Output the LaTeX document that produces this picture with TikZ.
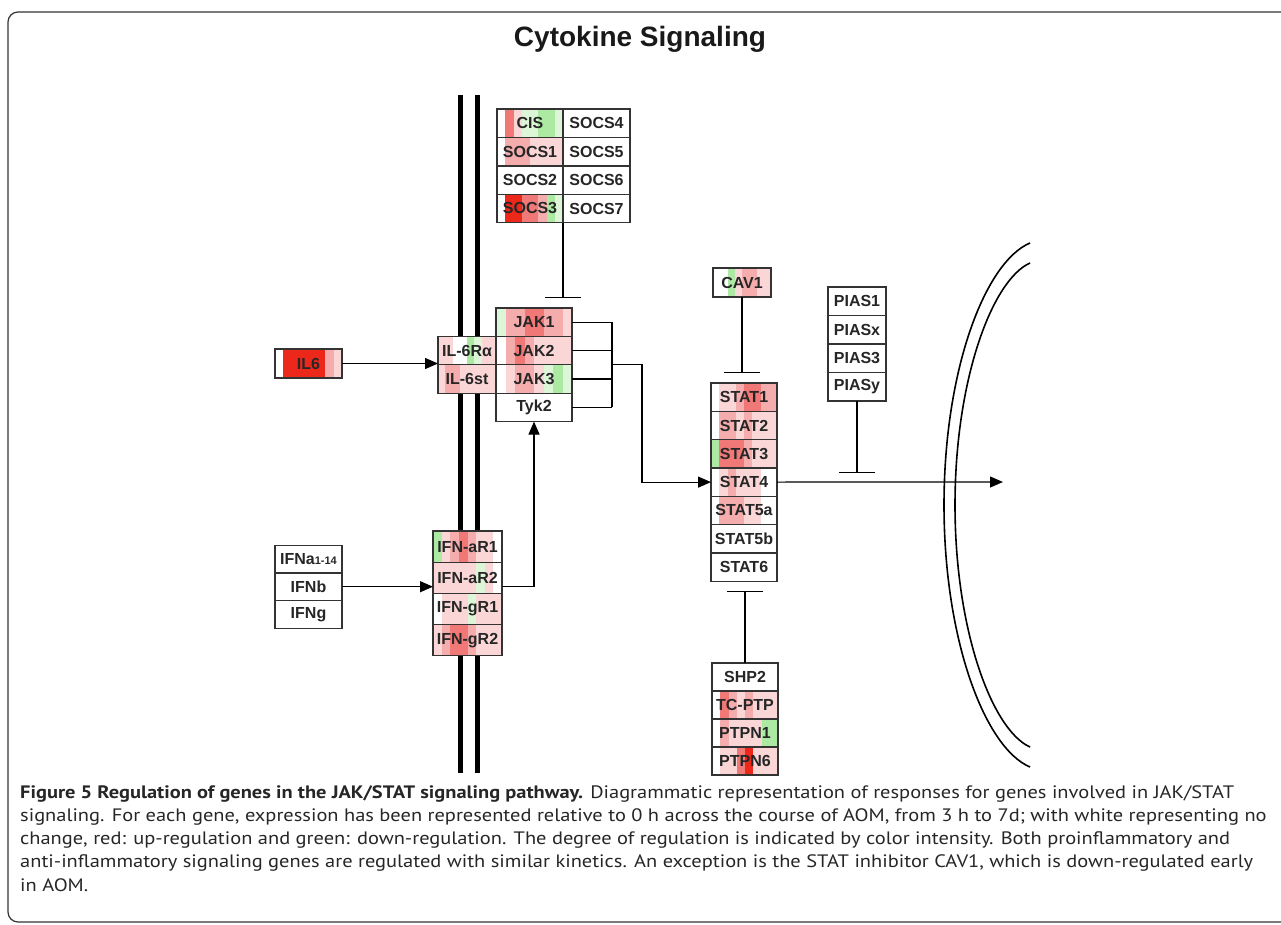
\documentclass[tikz,border=0pt]{standalone}
\usepackage{fontspec}
\setmainfont{PT Sans}[FakeStretch=1.135]
\newfontfamily\genefont{Liberation Sans}
\usetikzlibrary{positioning,calc,arrows.meta}

% heat-map colours (time course stripes)
\definecolor{r1}{RGB}{250,214,214}
\definecolor{r2}{RGB}{245,172,172}
\definecolor{r3}{RGB}{240,120,118}
\definecolor{r4}{RGB}{236,40,26}
\definecolor{g1}{RGB}{222,246,216}
\definecolor{g2}{RGB}{172,234,164}
\colorlet{w}{white}

\tikzset{
  heat/.style={path picture={
      \coordinate (hsw) at (path picture bounding box.south west);
      \coordinate (hne) at (path picture bounding box.north east);
      \coordinate (hse) at (hsw -| hne);
      \coordinate (hnw) at (hne -| hsw);
      \foreach \c [count=\i] in {#1}
        \fill[\c] ($(hsw)!{(\i-1)/8}!(hse)$) rectangle ($(hnw)!{\i/8}!(hne)$);
  }}
}

\begin{document}
\begin{tikzpicture}[x=1pt, y=-1pt,
    gene/.style={draw=black!80, line width=1.3pt, fill=white, inner sep=0pt, outer sep=0pt,
      minimum height=28.4pt, text=black!85, font=\genefont\bfseries\fontsize{16}{16}\selectfont},
    act/.style={-{Triangle[length=13pt,width=11pt]}, line width=1.2pt},
    inh/.style={-{Bar[width=36pt]}, line width=1.2pt},
    link/.style={line width=1.2pt},
    memb/.style={line width=5pt},
    envelope/.style={line width=1.6pt}
]
    \useasboundingbox (0,0) rectangle (1281,925);

    % Frame and title
    \draw[line width=1.2pt, black!80, rounded corners=10pt] (1300,12) -- (8,12) -- (8,922) -- (1300,922);
    \node[font=\genefont\bfseries\fontsize{28}{28}\selectfont, text=black!90] (title) at (640,39) {Cytokine Signaling};

    % Cell membrane
    \draw[memb] (460,95) -- (460,773);
    \draw[memb] (477,95) -- (477,773);

    % Nuclear envelope
    \draw[envelope] (1030,243) .. controls (985,262) and (944,370) .. (944,505)
                    .. controls (944,640) and (985,748) .. (1030,767);
    \draw[envelope] (1030,263) .. controls (992,280) and (955,380) .. (955,505)
                    .. controls (955,630) and (992,730) .. (1030,747);

    % SOCS family
    \node[gene, minimum width=66pt, heat={w,r3,r1,g1,g1,g2,g2,g1}] (cis) at (530,123.3) {CIS};
    \node[gene, minimum width=66pt, heat={w,r2,r2,r2,r1,r1,r1,r1}, below=0pt of cis] (socs1) {SOCS1};
    \node[gene, minimum width=66pt, below=0pt of socs1] (socs2) {SOCS2};
    \node[gene, minimum width=66pt, heat={w,r4,r4,r3,r3,r2,g2,g1}, below=0pt of socs2] (socs3) {SOCS3};
    \node[gene, minimum width=67pt, right=0pt of cis] (socs4) {SOCS4};
    \node[gene, minimum width=67pt, below=0pt of socs4] (socs5) {SOCS5};
    \node[gene, minimum width=67pt, below=0pt of socs5] (socs6) {SOCS6};
    \node[gene, minimum width=67pt, below=0pt of socs6] (socs7) {SOCS7};

    % JAKs
    \node[gene, minimum width=76pt, heat={g1,r2,r2,r3,r3,r2,r2,r1}] (jak1) at (534,322.2) {JAK1};
    \node[gene, minimum width=76pt, heat={w,r2,r3,r2,r1,r1,r1,r1}, below=0pt of jak1] (jak2) {JAK2};
    \node[gene, minimum width=76pt, heat={w,r1,r2,r2,r1,g1,g2,g1}, below=0pt of jak2] (jak3) {JAK3};
    \node[gene, minimum width=76pt, below=0pt of jak3] (tyk2) {Tyk2};

    % IL-6 receptor
    \node[gene, minimum width=58pt, heat={r1,r1,w,w,g2,g1,r1,r1}, left=0pt of jak2] (il6ra) {IL-6Rα};
    \node[gene, minimum width=58pt, heat={r1,r2,r2,r1,r1,r1,r1,r1}, below=0pt of il6ra] (il6st) {IL-6st};
    \node[gene, minimum width=67pt, minimum height=29pt, heat={w,r4,r4,r4,r4,r4,r2,r1}] (il6) at (308.5,363.5) {IL6};

    % Interferons and their receptors
    \node[gene, minimum width=67pt, minimum height=27.7pt] (ifna) at (308.5,559) {IFNa{\fontsize{11}{11}\selectfont 1-14}};
    \node[gene, minimum width=67pt, minimum height=27.7pt, below=0pt of ifna] (ifnb) {IFNb};
    \node[gene, minimum width=67pt, minimum height=27.7pt, below=0pt of ifnb] (ifng) {IFNg};

    \node[gene, minimum width=69pt, minimum height=31.2pt, heat={g2,r1,r2,r3,r2,r1,r1,w}] (ifnar1) at (467.5,546.6) {IFN-aR1};
    \node[gene, minimum width=69pt, minimum height=31.2pt, heat={r1,r1,r1,r1,r1,g1,r1,w}, below=0pt of ifnar1] (ifnar2) {IFN-aR2};
    \node[gene, minimum width=69pt, minimum height=31.2pt, heat={w,r1,r1,r1,g1,r1,r1,r1}, below=0pt of ifnar2] (ifngr1) {IFN-gR1};
    \node[gene, minimum width=69pt, minimum height=31.2pt, heat={r1,r2,r3,r3,r2,r1,r1,r1}, below=0pt of ifngr1] (ifngr2) {IFN-gR2};

    % STATs
    \node[gene, minimum width=66pt, minimum height=28.3pt, heat={w,r1,r1,r2,r3,r3,r2,r2}] (stat1) at (744,397.2) {STAT1};
    \node[gene, minimum width=66pt, minimum height=28.3pt, heat={w,r2,r2,r1,r2,r1,r1,r1}, below=0pt of stat1] (stat2) {STAT2};
    \node[gene, minimum width=66pt, minimum height=28.3pt, heat={g2,r3,r3,r3,r2,r1,r1,r1}, below=0pt of stat2] (stat3) {STAT3};
    \node[gene, minimum width=66pt, minimum height=28.3pt, heat={w,r1,r2,r1,r1,r1,w,w}, below=0pt of stat3] (stat4) {STAT4};
    \node[gene, minimum width=66pt, minimum height=28.3pt, heat={w,r2,r2,r2,r1,r1,w,w}, below=0pt of stat4] (stat5a) {STAT5a};
    \node[gene, minimum width=66pt, minimum height=28.3pt, below=0pt of stat5a] (stat5b) {STAT5b};
    \node[gene, minimum width=66pt, minimum height=28.3pt, below=0pt of stat5b] (stat6) {STAT6};

    % STAT inhibitors
    \node[gene, minimum width=58pt, minimum height=29pt, heat={w,w,g2,r1,r2,r2,r1,r1}] (cav1) at (742,282.5) {CAV1};

    \node[gene, minimum width=58pt, minimum height=28.5pt] (pias1) at (857,301.3) {PIAS1};
    \node[gene, minimum width=58pt, minimum height=28.5pt, below=0pt of pias1] (piasx) {PIASx};
    \node[gene, minimum width=58pt, minimum height=28.5pt, below=0pt of piasx] (pias3) {PIAS3};
    \node[gene, minimum width=58pt, minimum height=28.5pt, below=0pt of pias3] (piasy) {PIASy};

    \node[gene, minimum width=66pt, minimum height=28pt] (shp2) at (745,677) {SHP2};
    \node[gene, minimum width=66pt, minimum height=28pt, heat={w,r3,r2,r1,r2,r1,r1,r1}, below=0pt of shp2] (tcptp) {TC-PTP};
    \node[gene, minimum width=66pt, minimum height=28pt, heat={w,r2,r1,r1,r1,r1,g2,g2}, below=0pt of tcptp] (ptpn1) {PTPN1};
    \node[gene, minimum width=66pt, minimum height=28pt, heat={w,r1,r1,r3,r4,r1,r1,r1}, below=0pt of ptpn1] (ptpn6) {PTPN6};

    % Ligand to receptor
    \draw[act] (il6.east) -- (il6.east -| il6ra.west);
    \draw[act] (ifnb.east) -- (ifnb.east -| ifnar2.west);
    \draw[act] (ifnb.east -| ifnar2.east) -| (tyk2.south);

    % Inhibition
    \draw[inh] (socs3.south east) -- ($(socs3.south east |- jak1.north)+(0,-10)$);
    \draw[inh] (cav1.south) -- ($(cav1.south |- stat1.north)+(0,-10)$);
    \draw[inh] (piasy.south) -- ($(piasy.south |- stat4.center)+(0,-9)$);
    \draw[inh] (shp2.north) -- ($(shp2.north |- stat6.south)+(0,10)$);

    % JAKs to STATs
    \foreach \g in {jak1,jak2,jak3,tyk2}
        \draw[link] (\g.east) -- ++(40,0);
    \draw[link] ($(jak1.east)+(40,0)$) -- ($(tyk2.east)+(40,0)$);
    \coordinate (jbus) at ($(jak2.east)!0.5!(jak3.east)+(40,0)$);
    \draw[act] (jbus) -- ++(30,0) |- (stat4.west);

    % STAT into nucleus
    \coordinate (nucl) at (1003,482);
    \draw[act] (stat4.east) -- (nucl);

    % Caption
    \node[anchor=north west, align=left, inner sep=0pt, text=black!85,
          font=\fontsize{18}{23.3}\selectfont] (caption) at (20,785)
        {\textbf{Figure 5 Regulation of genes in the JAK/STAT signaling pathway.} Diagrammatic representation of responses for genes involved in JAK/STAT\\
         signaling. For each gene, expression has been represented relative to 0 h across the course of AOM, from 3 h to 7d; with white representing no\\
         change, red: up-regulation and green: down-regulation. The degree of regulation is indicated by color intensity. Both proinflammatory and\\
         anti-inflammatory signaling genes are regulated with similar kinetics. An exception is the STAT inhibitor CAV1, which is down-regulated early\\
         in AOM.};
\end{tikzpicture}
\end{document}
